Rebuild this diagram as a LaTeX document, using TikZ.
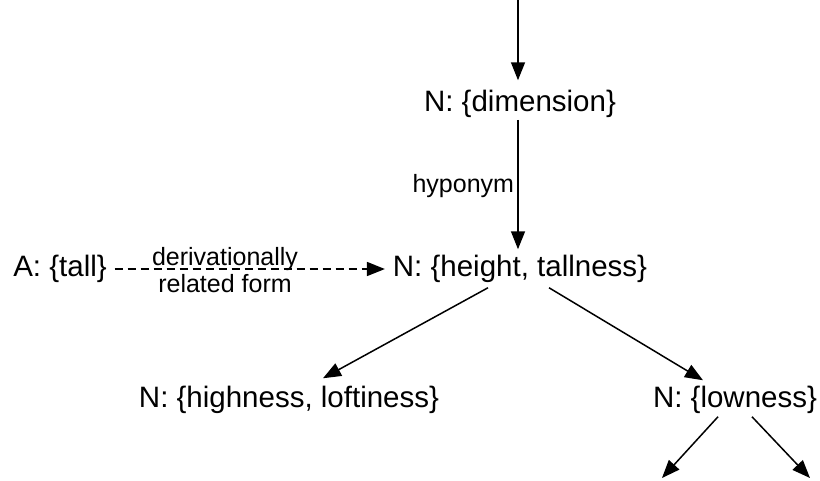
\documentclass[tikz,border=0pt]{standalone}
\usepackage{fontspec}
\setmainfont{Liberation Sans}
\usetikzlibrary{arrows.meta}
\begin{document}
\begin{tikzpicture}[x=1pt,y=-1pt,
  synset/.style={inner sep=0pt,outer sep=0pt,font=\fontsize{29.5}{32}\selectfont},
  lbl/.style={inner sep=0pt,outer sep=0pt,font=\fontsize{25}{27}\selectfont},
  arr/.style={line width=1.5pt,-{Triangle[length=18pt,width=14pt]}},
  darr/.style={arr,dash pattern=on 8pt off 5pt}]
\useasboundingbox (0,0) rectangle (820,480);
\coordinate (top) at (518,0);
\node[synset] (dim) at (520,104) {N: \{dimension\}};
\node[synset] (height) at (520,269) {N: \{height, tallness\}};
\node[synset] (tall) at (60,269) {A: \{tall\}};
\node[synset] (high) at (289,400) {N: \{highness, loftiness\}};
\node[synset] (low) at (735,400) {N: \{lowness\}};
\coordinate (ll) at (662,478);
\coordinate (lr) at (810,478);
\node[lbl,anchor=east] (hyp) at (514,186) {hyponym};
\node[lbl,align=center] (der) at (225,270) {derivationally\\related form};
\draw[arr,shorten >=10pt] (top) -- (dim.north -| top);
\draw[arr,shorten <=2pt,shorten >=6pt] (dim.south -| top) -- (height.north -| top);
\draw[darr,shorten <=8pt,shorten >=8pt] (tall.east) -- (height.west);
\draw[arr] ([xshift=-32pt,yshift=-5pt]height.south) -- ([xshift=34pt,yshift=8pt]high.north);
\draw[arr] ([xshift=29pt,yshift=-5pt]height.south) -- ([xshift=-32pt,yshift=6pt]low.north);
\draw[arr] ([xshift=-17pt,yshift=-3pt]low.south) -- (ll);
\draw[arr] ([xshift=17pt,yshift=-3pt]low.south) -- (lr);
\end{tikzpicture}
\end{document}
